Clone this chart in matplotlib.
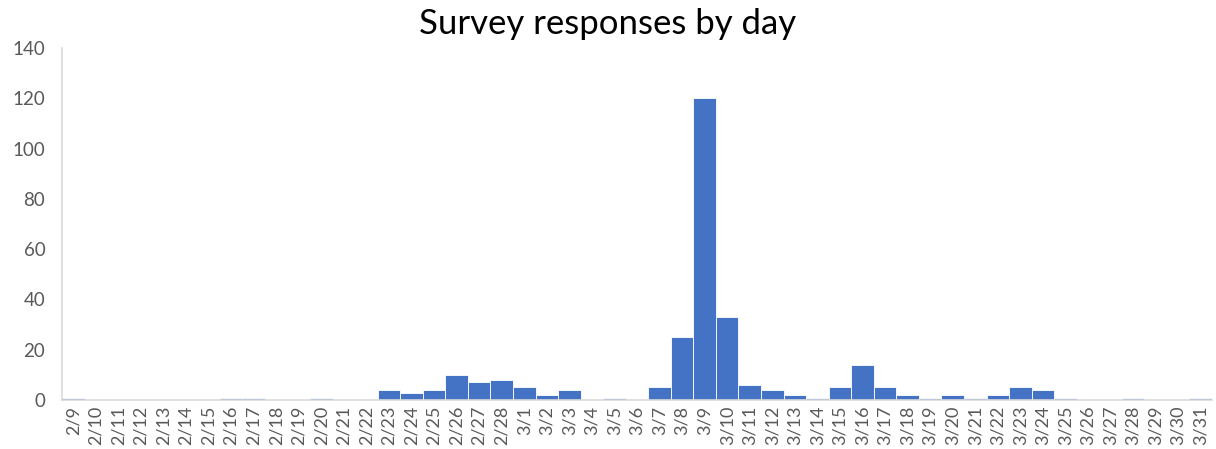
import matplotlib
matplotlib.use("Agg")
import matplotlib.pyplot as plt

dates = ["2/9", "2/10", "2/11", "2/12", "2/13", "2/14", "2/15", "2/16", "2/17", "2/18",
         "2/19", "2/20", "2/21", "2/22", "2/23", "2/24", "2/25", "2/26", "2/27", "2/28",
         "3/1", "3/2", "3/3", "3/4", "3/5", "3/6", "3/7", "3/8", "3/9", "3/10",
         "3/11", "3/12", "3/13", "3/14", "3/15", "3/16", "3/17", "3/18", "3/19", "3/20",
         "3/21", "3/22", "3/23", "3/24", "3/25", "3/26", "3/27", "3/28", "3/29", "3/30",
         "3/31"]
responses = [1, 0, 0, 0, 0, 0, 0, 1, 1, 0,
             0, 1, 0, 0, 4, 3, 4, 10, 7, 8,
             5, 2, 4, 0, 1, 0, 5, 25, 120, 33,
             6, 4, 2, 1, 5, 14, 5, 2, 1, 2,
             1, 2, 5, 4, 1, 0, 0, 1, 0, 0,
             1]
y_ticks = [0, 20, 40, 60, 80, 100, 120, 140]
title = "Survey responses by day"

plt.rcParams['font.family'] = ['Lato', 'DejaVu Sans']

fig = plt.figure(figsize=(12.16, 4.49), dpi=100)
ax = fig.add_axes([0.051, 0.109, 0.9457, 0.784])

x = list(range(len(dates)))
ax.bar(x, responses, width=1.0, color="#4472C4", edgecolor="white", linewidth=0.6)

ax.set_xlim(-0.5, len(dates) - 0.5)
ax.set_ylim(0, 140)
ax.set_yticks(y_ticks)
ax.set_yticklabels([str(v) for v in y_ticks], fontsize=13.5, color="#595959")
ax.set_xticks(x)
ax.set_xticklabels(dates, rotation=90, fontsize=13, color="#595959")
ax.tick_params(axis="both", length=0)
ax.tick_params(axis="y", pad=12)
ax.tick_params(axis="x", pad=4)

for s in ["top", "right"]:
    ax.spines[s].set_visible(False)
for s in ["left", "bottom"]:
    ax.spines[s].set_color("#D9D9D9")
    ax.spines[s].set_linewidth(1.2)

fig.text(0.5, 0.91, title, ha="center", va="bottom", fontsize=25, color="black")

fig.savefig("out.png", dpi=100, facecolor="white")
